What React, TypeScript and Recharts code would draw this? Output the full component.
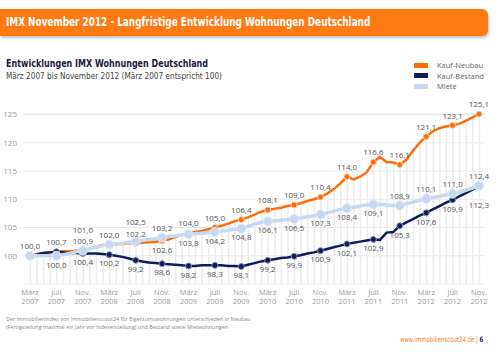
import React from 'react';
import { ComposedChart, Line, Bar, XAxis, YAxis, CartesianGrid, LabelList } from 'recharts';

// Tick labels (every 4th month)
const tickMonths = ['März', 'Juli', 'Nov.', 'März', 'Juli', 'Nov.', 'März', 'Juli', 'Nov.', 'März', 'Juli', 'Nov.', 'März', 'Juli', 'Nov.', 'März', 'Juli', 'Nov.'];
const tickYears = ['2007', '2007', '2007', '2008', '2008', '2008', '2009', '2009', '2009', '2010', '2010', '2010', '2011', '2011', '2011', '2012', '2012', '2012'];
const yTicks = [100, 105, 110, 115, 120, 125];

// Monthly index values, März 2007 .. November 2012
const neubau = [
  100.0, 100.3, 100.5, 100.6, 100.7, 100.8, 100.8, 100.9, 101.0, 101.2, 101.6, 101.9, 102.0,
  102.1, 102.1, 102.2, 102.2, 102.3, 102.4, 102.5, 102.6, 102.9, 103.3, 103.7, 104.0,
  104.2, 104.4, 104.7, 105.0, 105.3, 105.7, 106.1, 106.4, 106.8, 107.3, 107.8, 108.1,
  108.3, 108.5, 108.8, 109.0, 109.3, 109.7, 110.0, 110.4, 111.0, 111.8, 112.8, 114.0,
  113.5, 114.0, 114.8, 116.6, 117.5, 116.6, 116.5, 116.1, 117.0, 118.6, 120.0, 121.1,
  122.0, 122.6, 122.9, 123.1, 123.4, 123.9, 124.5, 125.1,
];
const bestand = [
  100.0, 100.2, 100.5, 100.6, 100.7, 100.6, 100.5, 100.5, 100.4, 100.4, 100.4, 100.3, 100.2,
  100.0, 99.8, 99.5, 99.2, 99.0, 98.8, 98.7, 98.6, 98.5, 98.4, 98.3, 98.2,
  98.2, 98.3, 98.3, 98.3, 98.3, 98.2, 98.2, 98.1, 98.4, 98.7, 99.0, 99.2,
  99.4, 99.6, 99.7, 99.9, 100.1, 100.4, 100.6, 100.9, 101.2, 101.5, 101.8, 102.1,
  102.3, 102.5, 102.7, 102.9, 102.8, 104.1, 104.2, 105.3, 105.9, 106.5, 107.1, 107.6,
  108.2, 108.8, 109.4, 109.9, 110.5, 111.1, 111.7, 112.3,
];
const miete = [
  100.0, 100.0, 100.0, 100.0, 100.0, 100.2, 100.4, 100.7, 100.9, 101.2, 101.5, 101.8, 102.0,
  102.1, 102.2, 102.4, 102.5, 102.7, 102.9, 103.0, 103.2, 103.4, 103.5, 103.7, 103.8,
  103.9, 104.0, 104.1, 104.2, 104.4, 104.5, 104.7, 104.8, 105.2, 105.6, 105.9, 106.1,
  106.2, 106.3, 106.4, 106.5, 106.7, 106.9, 107.1, 107.3, 107.6, 107.9, 108.2, 108.4,
  108.6, 108.8, 109.0, 109.1, 109.1, 109.0, 108.9, 108.9, 109.2, 109.5, 109.8, 110.1,
  110.3, 110.5, 110.8, 111.0, 111.3, 111.6, 112.0, 112.4,
];

// label placement at each marker: a = above, t = above (2nd row), b = below, d = below (2nd row), '' = none
const placeNeubau = ['a', 'a', 't', 'a', 'a', 'b', 'a', 'a', 'a', 'a', 'a', 'a', 'a', 'a', 'a', 'a', 'a', 'a'];
const placeMiete = ['', 'b', 'a', '', 't', 'a', 'b', 'b', 'b', 'b', 'b', 'b', 'b', 'b', 'a', 'a', 'a', 'a'];
const placeBestand = ['', '', 'b', 'b', 'b', 'b', 'b', 'b', 'b', 'b', 'b', 'b', 'b', 'b', 'b', 'b', 'b', 'd'];

const ORANGE = '#ff6d0a';
const NAVY = '#0c1d5a';
const LIGHT = '#c6d9f0';
const NARROW = '"DejaVu Sans Condensed", "Open Sans", sans-serif';

const data = neubau.map((v, i) => ({
  i,
  neubau: v,
  bestand: bestand[i],
  miete: miete[i],
  top: Math.max(v, bestand[i], miete[i]),
}));

const offsets: Record<string, number> = { a: -9.5, t: -19.5, b: 9, d: 19 };

const makeLabel = (places: string[]) => (props: any) => {
  const { x, y, value, index } = props;
  if (index % 4 !== 0) return null;
  const p = places[index / 4];
  if (!p) return null;
  return (
    <text x={x} y={y + offsets[p]} dy="0.35em" textAnchor="middle" fontSize={8} fill="#555">
      {Number(value).toFixed(1).replace('.', ',')}
    </text>
  );
};

const makeDot = (fill: string, stroke: string, r: number) => (props: any) => {
  const { cx, cy, index } = props;
  if (index % 4 !== 0) return <g key={index} />;
  return <circle key={index} cx={cx} cy={cy} r={r} fill={fill} stroke={stroke} strokeWidth={1} />;
};

const MonthTick = (props: any) => {
  const { x, y, payload } = props;
  const k = Math.round(payload.value / 4);
  return (
    <g>
      <text x={x} y={y + 3} textAnchor="middle" fontSize={7.5} fill="#9a9a9a">{tickMonths[k]}</text>
      <text x={x} y={y + 12} textAnchor="middle" fontSize={7.5} fill="#9a9a9a">{tickYears[k]}</text>
    </g>
  );
};

const squeeze = (sx: number): React.CSSProperties => ({ transform: `scaleX(${sx})`, transformOrigin: 'left center' });

const App: React.FC = () => {
  return (
    <div style={{ position: 'absolute', left: 0, top: 0, width: 500, height: 352, background: '#fff', fontFamily: '"Open Sans", sans-serif', overflow: 'hidden' }}>
      <div style={{
        position: 'absolute', left: 0, top: 9, width: 488, height: 27, background: '#ff7a12',
        borderRadius: '0 6px 6px 0', boxShadow: '1px 2px 3px rgba(0,0,0,0.25)',
      }}>
        <div style={{ position: 'absolute', left: 6, top: 5, color: '#fff', fontWeight: 700, fontSize: 12.5, fontFamily: NARROW, whiteSpace: 'nowrap', ...squeeze(0.79) }}>
          IMX November 2012 - Langfristige Entwicklung Wohnungen Deutschland
        </div>
      </div>

      <div style={{ position: 'absolute', left: 6, top: 57, fontWeight: 700, fontSize: 11, color: '#1a2040', whiteSpace: 'nowrap', fontFamily: NARROW, ...squeeze(0.81) }}>
        Entwicklungen IMX Wohnungen Deutschland
      </div>
      <div style={{ position: 'absolute', left: 6, top: 70, fontSize: 9.5, color: '#444', whiteSpace: 'nowrap', fontFamily: NARROW, ...squeeze(0.86) }}>
        März 2007 bis November 2012 (März 2007 entspricht 100)
      </div>

      {[['Kauf-Neubau', ORANGE], ['Kauf-Bestand', NAVY], ['Miete', LIGHT]].map(([name, color], k) => (
        <div key={name} style={{ position: 'absolute', left: 414, top: 60 + k * 10.5, height: 10, display: 'flex', alignItems: 'center', whiteSpace: 'nowrap' }}>
          <div style={{ width: 14, height: 5, background: color, marginRight: 9 }} />
          <span style={{ fontSize: 7.5, color: '#666' }}>{name}</span>
        </div>
      ))}

      <div style={{ position: 'absolute', left: 0, top: 0 }}>
        <ComposedChart width={500} height={320} data={data} margin={{ top: 114, right: 15, bottom: 6, left: 0 }}>
          <CartesianGrid horizontal vertical={false} stroke="#e8e8e8" />
          <XAxis
            type="number"
            dataKey="i"
            domain={[0, 68]}
            ticks={tickMonths.map((_, k) => k * 4)}
            interval={0}
            padding={{ left: 7, right: 6 }}
            axisLine={false}
            tickLine={false}
            height={30}
            tick={<MonthTick />}
          />
          <YAxis
            domain={[95, 125]}
            ticks={yTicks}
            interval={0}
            width={23}
            axisLine={false}
            tickLine={false}
            tickSize={0}
            tickMargin={6}
            tick={{ fontSize: 8, fill: '#9a9a9a' }}
          />
          <Bar dataKey="top" barSize={1.5} fill="#ececec" isAnimationActive={false} />
          <Line type="linear" dataKey="neubau" stroke={ORANGE} strokeWidth={2.5} dot={makeDot(ORANGE, '#ffd2b0', 3)} activeDot={false} isAnimationActive={false}>
            <LabelList dataKey="neubau" content={makeLabel(placeNeubau)} />
          </Line>
          <Line type="linear" dataKey="bestand" stroke={NAVY} strokeWidth={2.5} dot={makeDot(NAVY, '#8a93b8', 3)} activeDot={false} isAnimationActive={false}>
            <LabelList dataKey="bestand" content={makeLabel(placeBestand)} />
          </Line>
          <Line type="linear" dataKey="miete" stroke={LIGHT} strokeWidth={3.5} dot={makeDot(LIGHT, '#dfe9f6', 4.5)} activeDot={false} isAnimationActive={false}>
            <LabelList dataKey="miete" content={makeLabel(placeMiete)} />
          </Line>
        </ComposedChart>
      </div>

      <div style={{ position: 'absolute', left: 6, top: 315, fontSize: 5.4, lineHeight: '8px', color: '#888', whiteSpace: 'nowrap' }}>
        Der Immobilienindex von Immobilienscout24 für Eigentumswohnungen unterschieden in Neubau<br />
        (Fertigstellung maximal ein Jahr vor Indexerstellung) und Bestand sowie Mietwohnungen
      </div>
      <div style={{ position: 'absolute', left: 400, top: 335, fontSize: 7.5, color: '#ff7a1a', whiteSpace: 'nowrap', fontFamily: NARROW, ...squeeze(0.8) }}>
        www.immobilienscout24.de | <span style={{ color: NAVY, fontWeight: 700 }}>6</span>
      </div>
    </div>
  );
};

export default App;
